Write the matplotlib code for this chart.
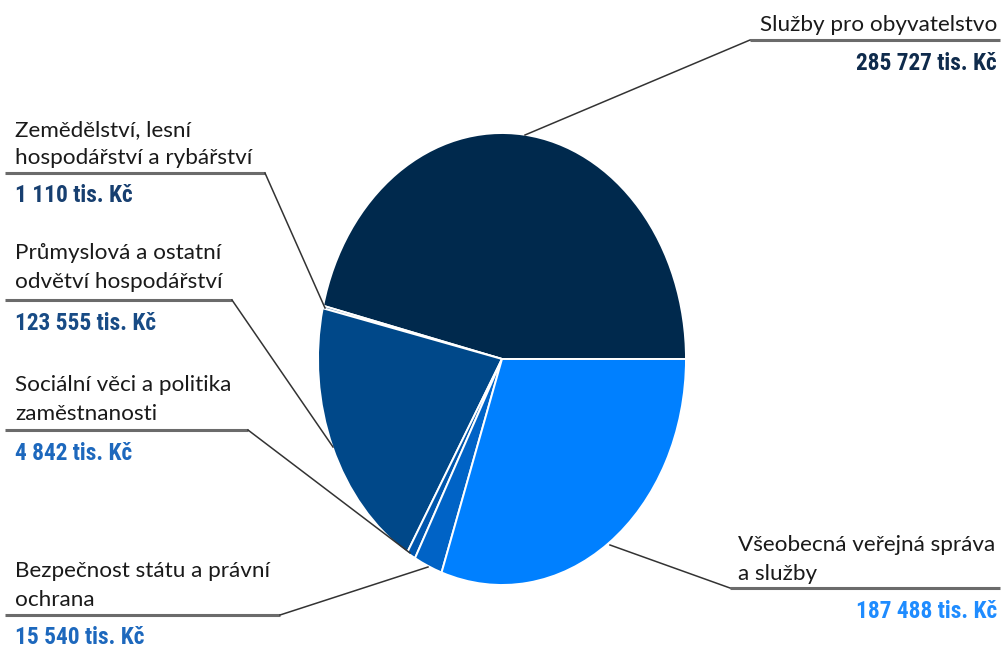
import matplotlib
matplotlib.use("Agg")
import matplotlib.pyplot as plt
from matplotlib import font_manager

# ---- data ----
categories = [
    "Služby pro obyvatelstvo",
    "Zemědělství, lesní\nhospodářství a rybářství",
    "Průmyslová a ostatní\nodvětví hospodářství",
    "Sociální věci a politika\nzaměstnanosti",
    "Bezpečnost státu a právní\nochrana",
    "Všeobecná veřejná správa\na služby",
]
values = [285727, 1110, 123555, 4842, 15540, 187488]
value_labels = ["285 727 tis. Kč", "1 110 tis. Kč", "123 555 tis. Kč",
                "4 842 tis. Kč", "15 540 tis. Kč", "187 488 tis. Kč"]
colors = ["#00294d", "#2a5f96", "#004889", "#0056ad", "#0063c6", "#0080ff"]
value_colors = ["#0f2b4c", "#173f70", "#184b85", "#1d68bd", "#1d68bd", "#1f8cff"]

avail = {f.name for f in font_manager.fontManager.ttflist}
def pick(prefs):
    for p in prefs:
        if p in avail:
            return p
    return "DejaVu Sans"
font_reg = pick(["Lato", "Noto Sans", "DejaVu Sans"])
font_val = pick(["Roboto Condensed", "Liberation Sans Narrow", "DejaVu Sans Condensed", "Lato"])

W, H = 1003, 648
fig = plt.figure(figsize=(W / 100, H / 100), dpi=100)

# pie axes: x in pixels, y scaled so the circle becomes an ellipse
cx, cy, rx, ry = 502, 359, 184, 226
k = rx / ry
axp = fig.add_axes([0, 0, 1, 1])
axp.pie(values, colors=colors, startangle=0, counterclock=True,
        center=(cx, (H - cy) * k), radius=rx,
        wedgeprops=dict(edgecolor="white", linewidth=1.4))
axp.set_aspect("auto")
axp.set_xlim(0, W)
axp.set_ylim(0, H * k)
axp.axis("off")

# annotation axes in pixel coords (y downward)
ax = fig.add_axes([0, 0, 1, 1])
ax.set_xlim(0, W)
ax.set_ylim(H, 0)
ax.axis("off")
ax.patch.set_alpha(0)

fs = 16.2
fsv = 16.8
# (text anchor x, first-line y, underline y, underline x0, x1, elbow x, pie point, align)
layout = [
    (997, 25, 40, 750, 1000, 750, (525, 135), "right"),
    (15, 130, 173, 5, 265, 265, (325, 308), "left"),
    (15, 253, 300, 5, 232, 232, (333, 447), "left"),
    (15, 385, 430, 5, 248, 248, (410, 553), "left"),
    (15, 571, 615, 5, 280, 280, (428, 567), "left"),
    (738, 545, 588, 730, 1000, 730, (610, 545), "left"),
]
for i, (tx, ty, uy, ux0, ux1, ex, pp, al) in enumerate(layout):
    ax.plot([ux0, ux1], [uy, uy], color="#6b6b6b", lw=2.2, solid_capstyle="butt")
    ax.plot([ex, pp[0]], [uy, pp[1]], color="#333333", lw=1.1)
    lines = categories[i].split("\n")
    for j, ln in enumerate(lines):
        ax.text(tx, ty + j * 28.5, ln, ha=al, va="center", fontsize=fs,
                family=font_reg, color="#1a1a1a")
    right = (al == "right" or i == 5)
    vx = 997 if right else tx
    ax.text(vx, uy + 23, value_labels[i], ha="right" if right else "left",
            va="center", fontsize=fsv, family=font_val, fontweight="bold",
            color=value_colors[i])

fig.savefig("out.png", dpi=100)
